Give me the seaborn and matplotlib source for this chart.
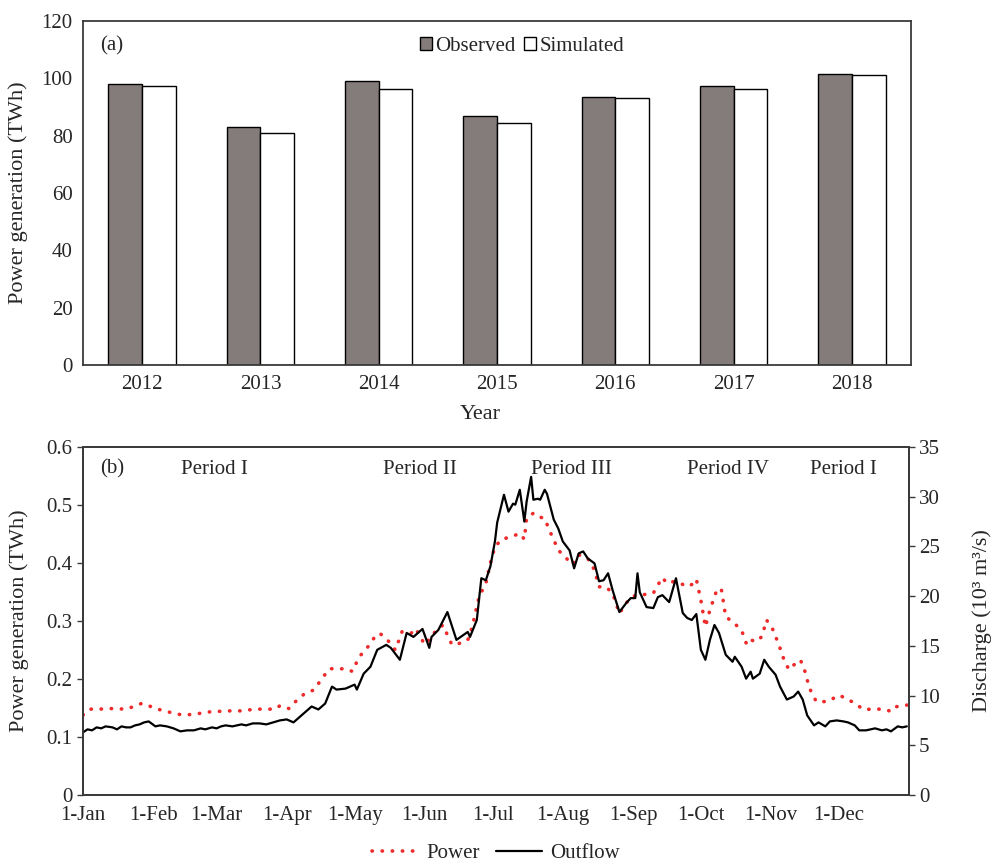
import pandas as pd
import matplotlib.pyplot as plt
import seaborn as sns

# (a) annual power generation, TWh
years = ['2012', '2013', '2014', '2015', '2016', '2017', '2018']
observed = [97.9, 83.2, 98.9, 86.9, 93.5, 97.4, 101.4]
simulated = [97.4, 81.1, 96.2, 84.5, 93.2, 96.4, 101.1]

# (b) daily series, day of year (0 = 1-Jan)
power_day = [0, 3, 7, 13, 19, 22, 26, 29, 32, 37, 41, 44, 49, 55, 59, 65, 70, 76, 82, 85,
             87, 91, 93, 98, 102, 106, 109, 112, 116, 119, 122, 126, 129, 131, 134, 138,
             141, 145, 147, 151, 155, 159, 163, 167, 170, 172, 175, 178, 180, 182, 185,
             189, 193, 195, 196, 199, 201, 204, 206, 208, 210, 213, 216, 219, 223, 226,
             228, 231, 234, 237, 240, 243, 247, 252, 254, 256, 258, 261, 264, 267, 270,
             271, 273, 275, 277, 280, 282, 284, 287, 291, 293, 294, 297, 300, 302, 305,
             308, 310, 312, 314, 317, 319, 321, 324, 329, 334, 337, 341, 345, 348, 354,
             357, 359, 364]
power = [0.138, 0.148, 0.148, 0.149, 0.148, 0.152, 0.158, 0.154, 0.149, 0.144, 0.140,
         0.138, 0.139, 0.143, 0.144, 0.145, 0.145, 0.148, 0.148, 0.148, 0.154, 0.149,
         0.158, 0.175, 0.181, 0.203, 0.218, 0.217, 0.218, 0.213, 0.238, 0.256, 0.273,
         0.279, 0.270, 0.250, 0.282, 0.279, 0.287, 0.259, 0.279, 0.293, 0.259, 0.262,
         0.267, 0.290, 0.342, 0.365, 0.400, 0.428, 0.441, 0.445, 0.451, 0.441, 0.477,
         0.486, 0.480, 0.477, 0.457, 0.440, 0.422, 0.411, 0.397, 0.414, 0.408, 0.388,
         0.359, 0.359, 0.348, 0.313, 0.331, 0.343, 0.345, 0.348, 0.362, 0.375, 0.365,
         0.368, 0.365, 0.359, 0.365, 0.372, 0.336, 0.290, 0.319, 0.353, 0.356, 0.307,
         0.299, 0.284, 0.262, 0.270, 0.264, 0.273, 0.302, 0.284, 0.253, 0.230, 0.216,
         0.224, 0.233, 0.213, 0.184, 0.161, 0.161, 0.172, 0.167, 0.158, 0.147, 0.148,
         0.148, 0.144, 0.152, 0.155]

outflow_day = [0, 2, 4, 6, 8, 10, 13, 15, 17, 19, 21, 23, 25, 27, 29, 32, 34, 37, 40, 43,
               46, 49, 52, 54, 57, 59, 61, 63, 66, 68, 70, 72, 75, 78, 81, 84, 87, 90, 93,
               96, 99, 101, 104, 107, 110, 112, 116, 120, 121, 124, 127, 130, 134, 136,
               140, 143, 146, 150, 153, 154, 157, 161, 165, 170, 171, 174, 176, 178, 180,
               182, 183, 186, 188, 190, 191, 193, 195, 196, 198, 199, 201, 202, 204, 205,
               208, 210, 212, 215, 217, 219, 221, 223, 226, 228, 230, 232, 234, 237, 240,
               242, 244, 245, 246, 249, 252, 254, 256, 259, 262, 265, 267, 269, 271, 273,
               275, 277, 279, 281, 284, 287, 288, 291, 293, 295, 296, 299, 301, 303, 306,
               308, 311, 314, 316, 318, 320, 323, 325, 328, 330, 333, 336, 338, 341, 343,
               346, 348, 350, 353, 355, 357, 360, 362, 364]
outflow = [6.3, 6.6, 6.5, 6.8, 6.7, 6.9, 6.8, 6.6, 6.9, 6.8, 6.8, 7.0, 7.1, 7.3, 7.4, 6.9,
           7.0, 6.9, 6.7, 6.4, 6.5, 6.5, 6.7, 6.6, 6.8, 6.7, 6.9, 7.0, 6.9, 7.0, 7.1, 7.0,
           7.2, 7.2, 7.1, 7.3, 7.5, 7.6, 7.3, 7.9, 8.5, 8.9, 8.6, 9.2, 10.9, 10.6, 10.7,
           11.1, 10.6, 12.2, 12.9, 14.6, 15.1, 14.8, 13.6, 16.3, 15.9, 16.7, 14.8, 15.9,
           16.6, 18.4, 15.6, 16.4, 15.9, 17.6, 21.8, 21.6, 23.0, 25.5, 27.4, 30.2, 28.5,
           29.3, 29.2, 30.7, 27.5, 29.5, 32.0, 29.7, 29.8, 29.7, 30.7, 30.3, 27.7, 26.8,
           25.5, 24.6, 22.8, 24.3, 24.5, 23.8, 23.3, 21.5, 21.6, 22.3, 20.6, 18.4, 19.3,
           19.8, 19.8, 22.3, 20.4, 18.9, 18.8, 19.9, 20.1, 19.4, 21.8, 18.3, 17.8, 17.6,
           18.2, 14.6, 13.6, 15.6, 17.1, 16.3, 14.1, 13.4, 13.9, 12.9, 11.7, 12.4, 11.7,
           12.2, 13.6, 12.9, 12.1, 10.9, 9.6, 9.9, 10.4, 9.6, 8.0, 7.0, 7.3, 6.9, 7.4, 7.5,
           7.4, 7.3, 7.0, 6.5, 6.5, 6.6, 6.7, 6.5, 6.6, 6.4, 6.9, 6.8, 6.9]

month_labels = ['1-Jan', '1-Feb', '1-Mar', '1-Apr', '1-May', '1-Jun',
                '1-Jul', '1-Aug', '1-Sep', '1-Oct', '1-Nov', '1-Dec']
period_labels = ['Period I', 'Period II', 'Period III', 'Period IV', 'Period I']
period_day = [58, 149, 216, 285, 336]

sns.set_style('white')
plt.rcParams['font.family'] = ['Liberation Serif', 'DejaVu Serif']
plt.rcParams['font.size'] = 15
spine_col = '#3a3a3a'

fig = plt.figure(figsize=(9.92, 8.64), dpi=100)
ax1 = fig.add_axes([0.0837, 0.5775, 0.8347, 0.3982])
ax2 = fig.add_axes([0.0837, 0.0799, 0.8327, 0.4027])

# ---- (a) bars
bars = pd.DataFrame({'Year': years * 2,
                     'Power': observed + simulated,
                     'Type': ['Observed'] * len(years) + ['Simulated'] * len(years)})
sns.barplot(data=bars, x='Year', y='Power', hue='Type', palette=['#847b79', 'white'],
            edgecolor='black', linewidth=1, width=0.57, ax=ax1)
sns.move_legend(ax1, 'center', bbox_to_anchor=(0.53, 0.927), ncol=2, frameon=False,
                title=None, handlelength=0.6, handleheight=0.6, handletextpad=0.15,
                columnspacing=0.4, fontsize=15)
ax1.set_xlim(-0.5, 6.5)
ax1.set_ylim(0, 120)
ax1.set_yticks(range(0, 121, 20))
ax1.set_xticks([i + 0.5 for i in range(6)], minor=True)
ax1.tick_params(axis='x', which='major', length=0, pad=7, labelsize=15)
ax1.tick_params(axis='x', which='minor', direction='in', length=7, width=1, color=spine_col)
ax1.tick_params(axis='y', direction='out', length=4, width=1, color=spine_col, labelsize=15)
ax1.set_xlabel('Year', fontsize=16, labelpad=12)
ax1.xaxis.set_label_coords(0.48, -0.115)
ax1.set_ylabel('Power generation (TWh)', fontsize=16)
ax1.yaxis.set_label_coords(-0.066, 0.5)
ax1.text(0.035, 0.927, '(a)', transform=ax1.transAxes, ha='center', va='center', fontsize=15)

# ---- (b) daily series
pw = pd.DataFrame({'day': power_day, 'power': power})
of = pd.DataFrame({'day': outflow_day, 'outflow': outflow})
sns.lineplot(data=pw, x='day', y='power', ax=ax2, color='#ee2a2a', lw=2.6,
             linestyle=(0, (0.1, 2.7)), dash_capstyle='round', legend=False)
ax3 = ax2.twinx()
sns.lineplot(data=of, x='day', y='outflow', ax=ax3, color='black', lw=1.6, legend=False)

month_start = list(pd.date_range('2019-01-01', periods=12, freq='MS').dayofyear - 1)
ax2.set_xlim(0, 365)
ax2.set_xticks(month_start)
ax2.set_xticklabels(month_labels)
ax2.tick_params(axis='x', direction='in', length=7, width=1, color=spine_col, pad=8, labelsize=15)
ax2.set_ylim(0, 0.6)
ax2.set_yticks([0, 0.1, 0.2, 0.3, 0.4, 0.5, 0.6])
ax2.set_yticklabels(['0', '0.1', '0.2', '0.3', '0.4', '0.5', '0.6'])
ax2.tick_params(axis='y', direction='out', length=4, width=1, color=spine_col, labelsize=15)
ax2.set_xlabel('')
ax2.set_ylabel('Power generation (TWh)', fontsize=16)
ax2.yaxis.set_label_coords(-0.066, 0.5)

ax3.set_ylim(0, 35)
ax3.set_yticks(range(0, 36, 5))
ax3.tick_params(axis='y', direction='out', length=4, width=1, color=spine_col, labelsize=15, pad=3)
ax3.set_xlabel('')
ax3.set_ylabel('Discharge (10³ m³/s)', fontsize=16, rotation=90)
ax3.yaxis.set_label_coords(1.077, 0.5)

ax2.text(13, 0.562, '(b)', ha='center', va='center', fontsize=15)
for lab, d in zip(period_labels, period_day):
    ax2.text(d, 0.562, lab, ha='center', va='center', fontsize=15)

for ax in (ax1, ax2, ax3):
    for sp in ax.spines.values():
        sp.set_visible(True)
        sp.set_color(spine_col)
        sp.set_linewidth(1.3)

fig.legend(handles=[ax2.get_lines()[0], ax3.get_lines()[0]], labels=['Power', 'Outflow'],
           loc='center', bbox_to_anchor=(0.5, 0.012), ncol=2, frameon=False,
           handlelength=2.2, handletextpad=0.4, columnspacing=0.8, fontsize=15)

fig.savefig('out.png', dpi=100)
